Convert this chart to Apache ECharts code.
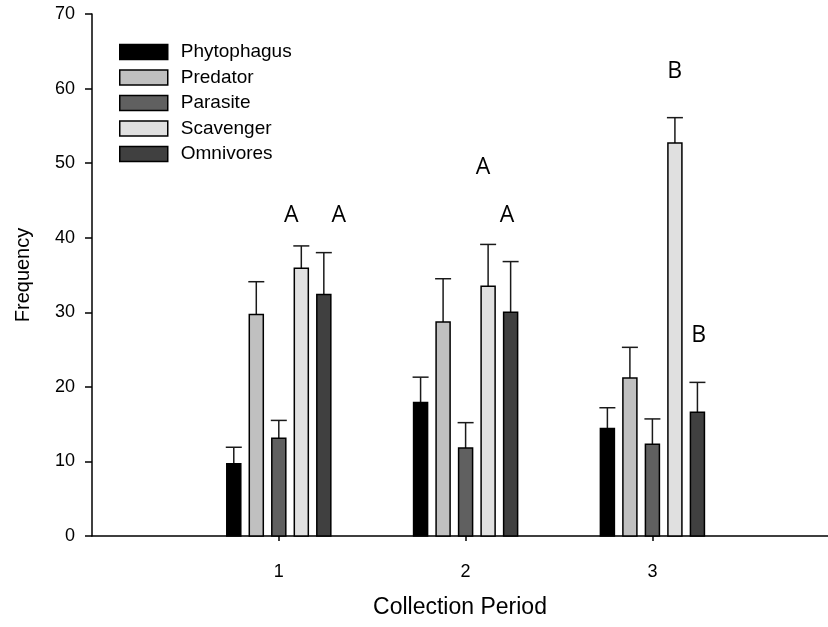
<!DOCTYPE html>
<html>
<head>
<meta charset="utf-8">
<script src="https://cdn.jsdelivr.net/npm/echarts@6/dist/echarts.min.js"></script>
<style>
html,body{margin:0;padding:0;background:#fff;}
#chart{width:828px;height:627px;}
</style>
</head>
<body>
<div id="chart"></div>
<script>
const periods = [1, 2, 3];
const groupNames = ['Phytophagus', 'Predator', 'Parasite', 'Scavenger', 'Omnivores'];
const phytophagus = [9.7, 17.9, 14.4];
const phytophagusErr = [2.2, 3.4, 2.8];
const predator = [29.7, 28.7, 21.2];
const predatorErr = [4.4, 5.8, 4.1];
const parasite = [13.1, 11.8, 12.3];
const parasiteErr = [2.4, 3.4, 3.4];
const scavenger = [35.9, 33.5, 52.7];
const scavengerErr = [3.0, 5.6, 3.4];
const omnivores = [32.4, 30.0, 16.6];
const omnivoresErr = [5.6, 6.8, 4.0];
const yTicks = [0, 10, 20, 30, 40, 50, 60, 70];
const letterText = ['A', 'A', 'A', 'A', 'B', 'B'];
const letterX = [1.067, 1.321, 2.093, 2.222, 3.119, 3.248];
const letterY = [43.0, 43.0, 49.4, 43.0, 62.3, 26.9];

const values = [phytophagus, predator, parasite, scavenger, omnivores];
const errors = [phytophagusErr, predatorErr, parasiteErr, scavengerErr, omnivoresErr];
const colors = ['#000000', '#c0c0c0', '#606060', '#e0e0e0', '#404040'];

const chart = echarts.init(document.getElementById('chart'), null, {renderer: 'canvas'});

function makeBarSeries(k) {
  return {
    name: groupNames[k],
    type: 'custom',
    itemStyle: {color: colors[k], borderColor: '#000', borderWidth: 1.5},
    data: periods.map((p, i) => [p, values[k][i], errors[k][i]]),
    renderItem: function (params, api) {
      const x = api.value(0), v = api.value(1), e = api.value(2);
      const base = api.coord([x, 0]);
      const top = api.coord([x, v]);
      const cap = api.coord([x, v + e]);
      const unit = api.size([1, 0])[0];
      const cx = base[0] + (k - 2) * 0.1205 * unit;
      const w = 0.075 * unit;
      const lineStyle = {stroke: '#1a1a1a', lineWidth: 1.5};
      return {
        type: 'group',
        children: [
          {type: 'line', shape: {x1: cx, y1: top[1], x2: cx, y2: cap[1]}, style: lineStyle},
          {type: 'line', shape: {x1: cx - 8, y1: cap[1], x2: cx + 8, y2: cap[1]}, style: lineStyle},
          {type: 'rect', shape: {x: cx - w / 2, y: top[1], width: w, height: base[1] - top[1]},
           style: {fill: colors[k], stroke: '#000', lineWidth: 1.5}}
        ]
      };
    }
  };
}

const series = groupNames.map((n, k) => makeBarSeries(k));
series.push({
  type: 'custom',
  name: 'letters',
  silent: true,
  data: letterText.map((t, i) => [letterX[i], letterY[i], t]),
  renderItem: function (params, api) {
    const pt = api.coord([api.value(0), api.value(1)]);
    return {
      type: 'text',
      x: pt[0], y: pt[1],
      style: {text: letterText[params.dataIndex], fill: '#000', font: '23px "Open Sans"',
               align: 'center', verticalAlign: 'middle'}
    };
  }
});

const option = {
  animation: false,
  backgroundColor: '#fff',
  grid: {left: 92, right: 0, top: 14, bottom: 91, containLabel: false},
  legend: {
    orient: 'vertical',
    left: 119, top: 42, padding: 0,
    itemWidth: 48, itemHeight: 15, itemGap: 5.5,
    icon: 'rect',
    data: groupNames.map((n, k) => ({name: n, icon: 'rect',
      itemStyle: {color: colors[k], borderColor: '#000', borderWidth: 1.5}})),
    textStyle: {fontFamily: 'Liberation Sans', fontSize: 19, color: '#000', lineHeight: 20, padding: [0, 0, 0, 8]}
  },
  xAxis: {
    type: 'value', min: 0, max: 3.94,
    name: 'Collection Period', nameLocation: 'middle', nameGap: 60,
    nameTextStyle: {fontFamily: 'Liberation Sans', fontSize: 23, color: '#000'},
    axisLine: {show: true, onZero: false, lineStyle: {color: '#000', width: 1.5}},
    axisTick: {show: true, length: 5, lineStyle: {color: '#000', width: 1.5}, customValues: periods},
    axisLabel: {fontFamily: 'Liberation Sans', fontSize: 18, color: '#000', margin: 27, customValues: periods,
      formatter: v => String(v)},
    splitLine: {show: false}
  },
  yAxis: {
    type: 'value', min: 0, max: 70, interval: 10,
    name: 'Frequency', nameLocation: 'middle', nameGap: 59,
    nameTextStyle: {fontFamily: 'Liberation Sans', fontSize: 20, color: '#000'},
    axisLine: {show: true, lineStyle: {color: '#000', width: 1.5}},
    axisTick: {show: true, length: 7, lineStyle: {color: '#000', width: 1.5}, customValues: yTicks},
    axisLabel: {fontFamily: 'Liberation Sans', fontSize: 18, color: '#000', margin: 17, customValues: yTicks},
    splitLine: {show: false}
  },
  series: series
};
chart.setOption(option);
</script>
</body>
</html>
